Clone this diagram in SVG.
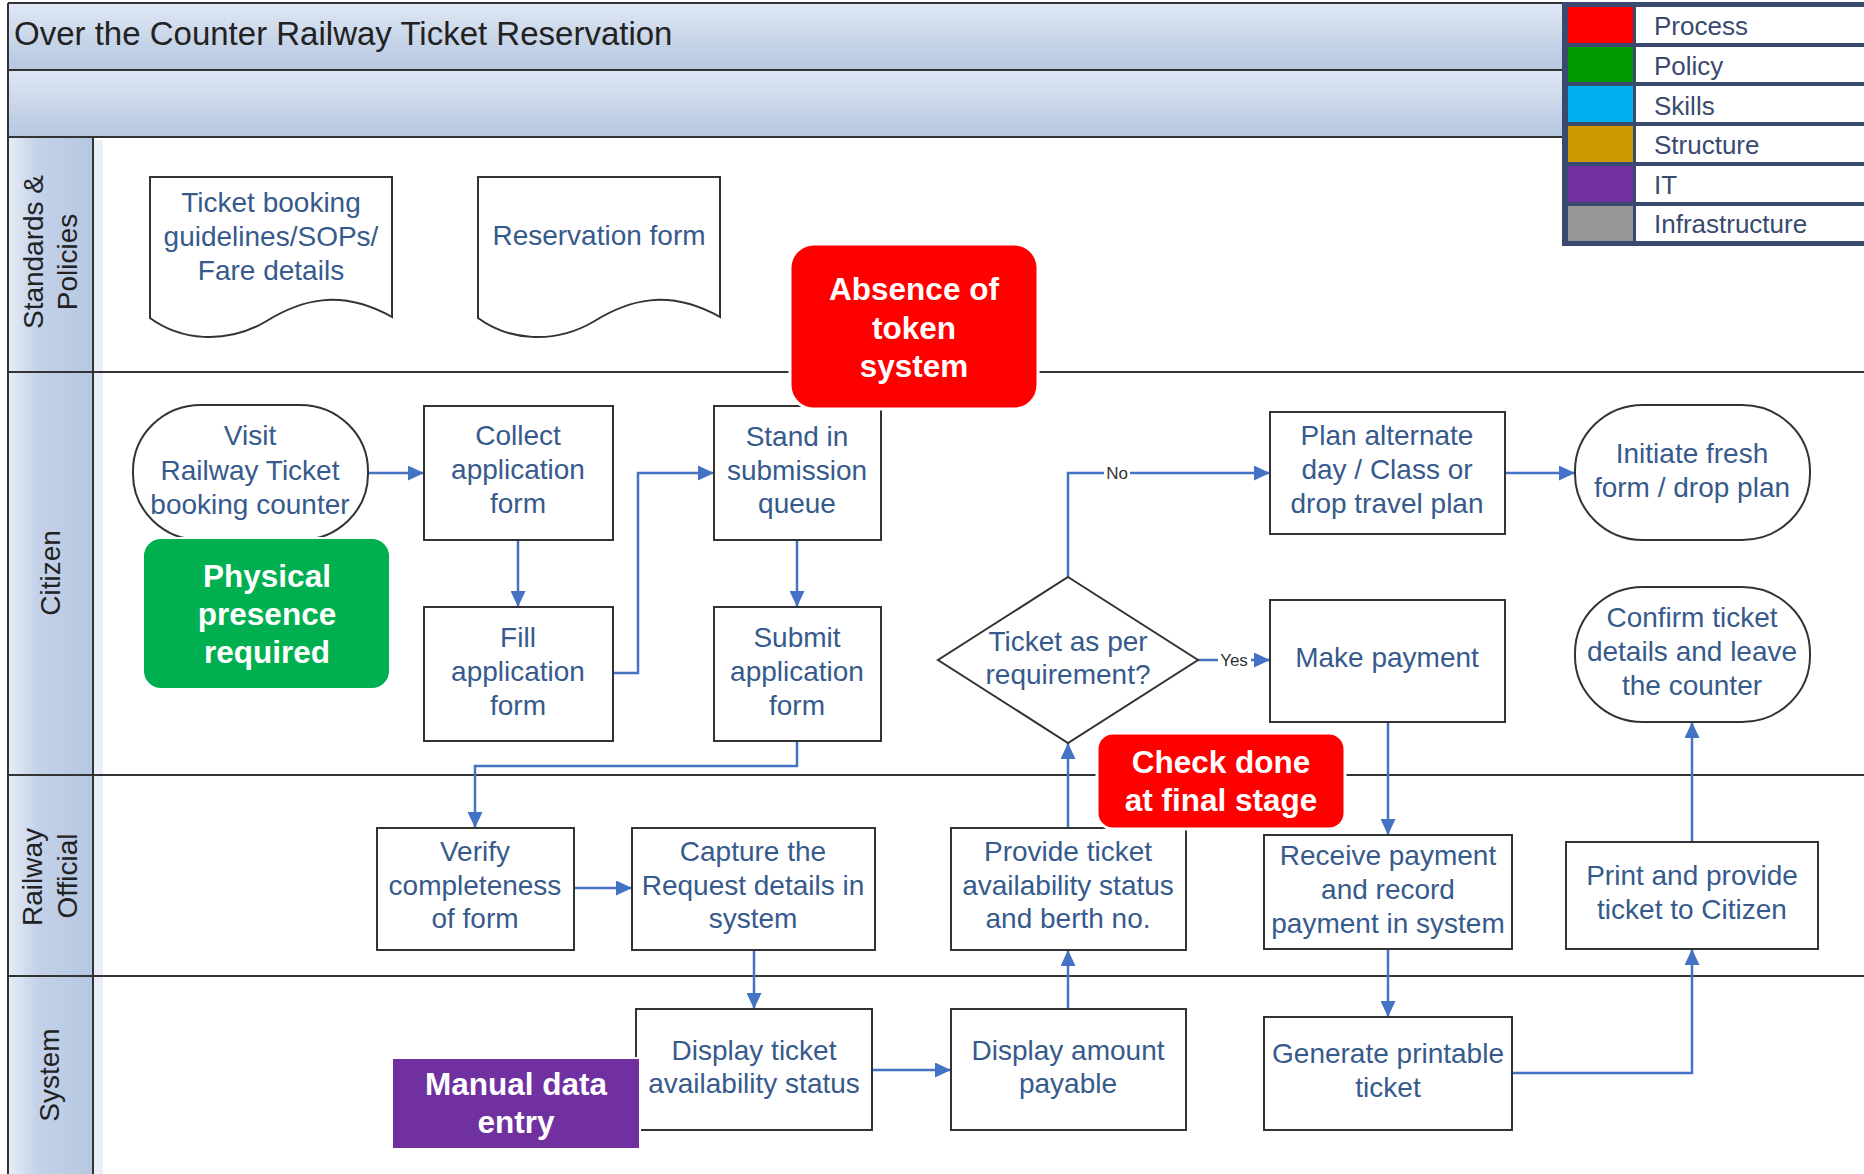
<svg xmlns="http://www.w3.org/2000/svg" width="1864" height="1174" viewBox="0 0 1864 1174">
<style>
.lane{stroke:#333;stroke-width:2;fill:none}
.box{fill:#fff;stroke:#333;stroke-width:2}
.t{font-family:"Liberation Sans",Arial,sans-serif;font-size:28px;fill:#375a8c;text-anchor:middle}
.lbl{font-family:"Liberation Sans",Arial,sans-serif;font-size:28px;fill:#222;text-anchor:middle}
.call{font-family:"Liberation Sans",Arial,sans-serif;font-size:31.5px;font-weight:bold;fill:#fff;text-anchor:middle}
.leg{font-family:"Liberation Sans",Arial,sans-serif;font-size:26px;fill:#3a4a6e}
.con{fill:none;stroke:#4472c4;stroke-width:2.5}
.arr{marker-end:url(#ah)}
.yn{font-family:"Liberation Sans",Arial,sans-serif;font-size:17px;fill:#333;text-anchor:middle}
</style>
<defs>
<linearGradient id="gBand" x1="0" y1="0" x2="0" y2="1">
<stop offset="0" stop-color="#dfe7f3"/><stop offset="1" stop-color="#b6c7e1"/>
</linearGradient>
<linearGradient id="gHead" x1="0" y1="0" x2="1" y2="0">
<stop offset="0" stop-color="#e6edf7"/><stop offset="0.35" stop-color="#c3d2e9"/><stop offset="1" stop-color="#b6c7e1"/>
</linearGradient>
<marker id="ah" viewBox="0 0 10 10" refX="10" refY="5" markerUnits="userSpaceOnUse" markerWidth="16" markerHeight="15" orient="auto" preserveAspectRatio="none">
<path d="M0,0 L10,5 L0,10 z" fill="#4472c4"/>
</marker>
</defs>
<rect width="1864" height="1174" fill="#fff"/>

<g id="swimlanes">
<rect x="8" y="3" width="1554" height="67" fill="url(#gBand)"/>
<rect x="8" y="70" width="1554" height="67" fill="url(#gBand)"/>
<rect x="8" y="137" width="85" height="1037" fill="url(#gHead)"/>
<rect x="94" y="140" width="9" height="1034" fill="#dfe7f3" opacity="0.7"/>
<path class="lane" d="M8,3 H1562 M8,70 H1562 M8,137 H1562 M8,372 H1864 M8,775 H1864 M8,976 H1864 M8,3 V1174 M93,137 V1174"/>
<text x="14" y="45" style="font-family:'Liberation Sans',Arial,sans-serif;font-size:33px;fill:#222">Over the Counter Railway Ticket Reservation</text>
<text class="lbl" transform="translate(43,252) rotate(-90)">Standards &amp;</text>
<text class="lbl" transform="translate(77,262) rotate(-90)">Policies</text>
<text class="lbl" transform="translate(60,573) rotate(-90)">Citizen</text>
<text class="lbl" transform="translate(42,877) rotate(-90)">Railway</text>
<text class="lbl" transform="translate(77,876) rotate(-90)">Official</text>
<text class="lbl" transform="translate(59,1075) rotate(-90)">System</text>
</g>

<g id="legend">
<rect x="1562" y="2" width="310" height="244" fill="#3a4a6e"/>
<rect x="1568" y="7" width="65" height="36" fill="#ff0000"/>
<rect x="1568" y="47" width="65" height="35" fill="#009900"/>
<rect x="1568" y="86" width="65" height="36" fill="#00b0f0"/>
<rect x="1568" y="126" width="65" height="36" fill="#cc9900"/>
<rect x="1568" y="166" width="65" height="36" fill="#7030a0"/>
<rect x="1568" y="206" width="65" height="35" fill="#969696"/>
<rect x="1636" y="7" width="240" height="36" fill="#fff"/>
<rect x="1636" y="47" width="240" height="35" fill="#fff"/>
<rect x="1636" y="86" width="240" height="36" fill="#fff"/>
<rect x="1636" y="126" width="240" height="36" fill="#fff"/>
<rect x="1636" y="166" width="240" height="36" fill="#fff"/>
<rect x="1636" y="206" width="240" height="35" fill="#fff"/>
<text class="leg" x="1654" y="35">Process</text>
<text class="leg" x="1654" y="75">Policy</text>
<text class="leg" x="1654" y="115">Skills</text>
<text class="leg" x="1654" y="154">Structure</text>
<text class="leg" x="1654" y="194">IT</text>
<text class="leg" x="1654" y="233">Infrastructure</text>
</g>

<g id="connectors">
<path class="con arr" d="M367,473 H424"/>
<path class="con arr" d="M518,540 V607"/>
<path class="con arr" d="M613,673 H638 V473 H714"/>
<path class="con arr" d="M797,540 V607"/>
<path class="con arr" d="M797,741 V766 H475 V828"/>
<path class="con arr" d="M574,888 H632"/>
<path class="con arr" d="M754,950 V1009"/>
<path class="con arr" d="M872,1070 H951"/>
<path class="con arr" d="M1068,1009 V950"/>
<path class="con arr" d="M1068,828 V743"/>
<path class="con arr" d="M1068,577 V473 H1270"/>
<path class="con arr" d="M1198,660 H1270"/>
<path class="con arr" d="M1505,473 H1575"/>
<path class="con arr" d="M1388,722 V835"/>
<path class="con arr" d="M1388,949 V1017"/>
<path class="con arr" d="M1511,1073 H1692 V949"/>
<path class="con arr" d="M1692,842 V722"/>
<rect x="1104" y="463" width="26" height="20" fill="#fff"/>
<text class="yn" x="1117" y="479">No</text>
<rect x="1218" y="650" width="33" height="20" fill="#fff"/>
<text class="yn" x="1234" y="666">Yes</text>
</g>

<g id="doc-guidelines">
<path class="box" d="M150,177 H392 V317 C340,288 300,300 265,322 C225,345 180,340 150,318 Z"/>
<text class="t"><tspan x="271" y="212">Ticket booking</tspan><tspan x="271" y="246">guidelines/SOPs/</tspan><tspan x="271" y="280">Fare details</tspan></text>
</g>
<g id="doc-reservation">
<path class="box" d="M478,177 H720 V317 C668,288 628,300 593,322 C553,345 508,340 478,318 Z"/>
<text class="t" x="599" y="245">Reservation form</text>
</g>

<g id="visit">
<rect class="box" x="133" y="405" width="235" height="135" rx="68" ry="66"/>
<text class="t"><tspan x="250" y="445">Visit</tspan><tspan x="250" y="480">Railway Ticket</tspan><tspan x="250" y="514">booking counter</tspan></text>
</g>
<g id="collect">
<rect class="box" x="424" y="406" width="189" height="134"/>
<text class="t"><tspan x="518" y="445">Collect</tspan><tspan x="518" y="479">application</tspan><tspan x="518" y="513">form</tspan></text>
</g>
<g id="fill">
<rect class="box" x="424" y="607" width="189" height="134"/>
<text class="t"><tspan x="518" y="647">Fill</tspan><tspan x="518" y="681">application</tspan><tspan x="518" y="715">form</tspan></text>
</g>
<g id="stand">
<rect class="box" x="714" y="406" width="167" height="134"/>
<text class="t"><tspan x="797" y="446">Stand in</tspan><tspan x="797" y="480">submission</tspan><tspan x="797" y="513">queue</tspan></text>
</g>
<g id="submit">
<rect class="box" x="714" y="607" width="167" height="134"/>
<text class="t"><tspan x="797" y="647">Submit</tspan><tspan x="797" y="681">application</tspan><tspan x="797" y="715">form</tspan></text>
</g>
<g id="decision">
<path class="box" d="M1068,577 L1198,660 L1068,743 L938,660 Z"/>
<text class="t"><tspan x="1068" y="651">Ticket as per</tspan><tspan x="1068" y="684">requirement?</tspan></text>
</g>
<g id="plan">
<rect class="box" x="1270" y="412" width="235" height="122"/>
<text class="t"><tspan x="1387" y="445">Plan alternate</tspan><tspan x="1387" y="479">day / Class or</tspan><tspan x="1387" y="513">drop travel plan</tspan></text>
</g>
<g id="initiate">
<rect class="box" x="1575" y="405" width="235" height="135" rx="68" ry="66"/>
<text class="t"><tspan x="1692" y="463">Initiate fresh</tspan><tspan x="1692" y="497">form / drop plan</tspan></text>
</g>
<g id="make-payment">
<rect class="box" x="1270" y="600" width="235" height="122"/>
<text class="t" x="1387" y="667">Make payment</text>
</g>
<g id="confirm">
<rect class="box" x="1575" y="587" width="235" height="135" rx="68" ry="66"/>
<text class="t"><tspan x="1692" y="627">Confirm ticket</tspan><tspan x="1692" y="661">details and leave</tspan><tspan x="1692" y="695">the counter</tspan></text>
</g>

<g id="verify">
<rect class="box" x="377" y="828" width="197" height="122"/>
<text class="t"><tspan x="475" y="861">Verify</tspan><tspan x="475" y="895">completeness</tspan><tspan x="475" y="928">of form</tspan></text>
</g>
<g id="capture">
<rect class="box" x="632" y="828" width="243" height="122"/>
<text class="t"><tspan x="753" y="861">Capture the</tspan><tspan x="753" y="895">Request details in</tspan><tspan x="753" y="928">system</tspan></text>
</g>
<g id="provide">
<rect class="box" x="951" y="828" width="235" height="122"/>
<text class="t"><tspan x="1068" y="861">Provide ticket</tspan><tspan x="1068" y="895">availability status</tspan><tspan x="1068" y="928">and berth no.</tspan></text>
</g>
<g id="receive">
<rect class="box" x="1264" y="835" width="248" height="114"/>
<text class="t"><tspan x="1388" y="865">Receive payment</tspan><tspan x="1388" y="899">and record</tspan><tspan x="1388" y="933">payment in system</tspan></text>
</g>
<g id="print">
<rect class="box" x="1566" y="842" width="252" height="107"/>
<text class="t"><tspan x="1692" y="885">Print and provide</tspan><tspan x="1692" y="919">ticket to Citizen</tspan></text>
</g>

<g id="display-ticket">
<rect class="box" x="636" y="1009" width="236" height="121"/>
<text class="t"><tspan x="754" y="1060">Display ticket</tspan><tspan x="754" y="1093">availability status</tspan></text>
</g>
<g id="display-amount">
<rect class="box" x="951" y="1009" width="235" height="121"/>
<text class="t"><tspan x="1068" y="1060">Display amount</tspan><tspan x="1068" y="1093">payable</tspan></text>
</g>
<g id="generate">
<rect class="box" x="1264" y="1017" width="248" height="113"/>
<text class="t"><tspan x="1388" y="1063">Generate printable</tspan><tspan x="1388" y="1097">ticket</tspan></text>
</g>

<g id="callout-physical">
<rect x="143" y="538" width="247" height="151" rx="18" fill="#00b050" stroke="#fff" stroke-width="2"/>
<text class="call"><tspan x="267" y="587">Physical</tspan><tspan x="267" y="625">presence</tspan><tspan x="267" y="663">required</tspan></text>
</g>
<g id="callout-token">
<rect x="790" y="244" width="248" height="165" rx="24" fill="#ff0000" stroke="#fff" stroke-width="3"/>
<text class="call"><tspan x="914" y="300">Absence of</tspan><tspan x="914" y="339">token</tspan><tspan x="914" y="377">system</tspan></text>
</g>
<g id="callout-check">
<rect x="1097" y="733" width="248" height="96" rx="16" fill="#ff0000" stroke="#fff" stroke-width="3"/>
<text class="call"><tspan x="1221" y="773">Check done</tspan><tspan x="1221" y="811">at final stage</tspan></text>
</g>
<g id="callout-manual">
<rect x="392" y="1058" width="248" height="91" fill="#7030a0" stroke="#fff" stroke-width="2"/>
<text class="call"><tspan x="516" y="1095">Manual data</tspan><tspan x="516" y="1133">entry</tspan></text>
</g>
</svg>
